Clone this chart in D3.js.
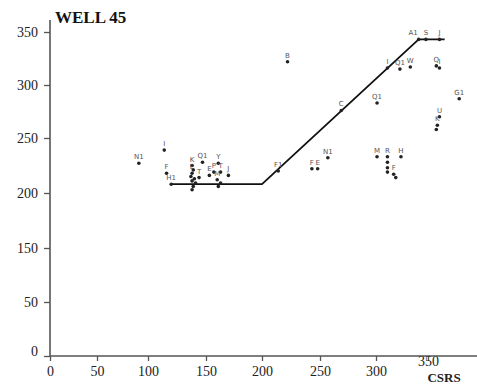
<!DOCTYPE html>
<html>
<head>
<meta charset="utf-8">
<script src="https://cdn.jsdelivr.net/npm/d3@7"></script>
<style>
  body { margin: 0; background: #fff; }
</style>
</head>
<body>
<div id="container"></div>
<script>
const width = 477;
const height = 391;

// y tick values as printed on the original axis (no 100)
const yTicks = [0, 50, 150, 200, 250, 300, 350];
const xTicks = [0, 50, 100, 150, 200, 250, 300, 350];

// broken-line fit (CSRS, value)
const fitX = [120, 200, 341, 366];
const fitY = [208, 208, 343, 343];

// labelled samples: [label, CSRS, value]
const samples = [
    ["N1", 91, 227], ["I", 114, 239], ["F", 116, 218], ["H1", 120, 208],
    ["Q1", 147, 228], ["Y", 161, 227],
    ["K", 138, 225], ["", 139, 221], ["E", 138, 218], ["", 137, 215],
    ["", 140, 213], ["", 138, 211], ["", 141, 209], ["", 139, 206],
    ["", 138, 203], ["T", 144, 214], ["E", 153, 216], ["P", 157, 219],
    ["M", 160, 212], ["T", 163, 219], ["J", 170, 216], ["", 163, 209], ["", 161, 206],
    ["F1", 214, 220], ["B", 222, 322], ["F", 243, 222], ["E", 248, 222],
    ["N1", 257, 232], ["C", 269, 276], ["Q1", 301, 283],
    ["M", 301, 233], ["R", 311, 233], ["", 311, 228], ["", 311, 223], ["", 311, 219],
    ["F", 317, 217], ["", 319, 214], ["H", 324, 233],
    ["I", 311, 316], ["Q1", 323, 315], ["W", 333, 317],
    ["A1", 341, 343], ["S", 348, 343], ["J", 361, 343],
    ["Q", 358, 318], ["I", 361, 316], ["G1", 380, 287],
    ["U", 361, 270], ["K", 359, 262], ["", 358, 258]
];

const svg = d3.create("svg")
    .attr("width", width)
    .attr("height", height)
    .style("font-family", "'Liberation Serif', 'DejaVu Serif', serif");

// scanned original axes are slightly uneven, so piecewise scales
const x = d3.scaleLinear()
    .domain([0, 50, 100, 150, 200, 250, 300, 350, 400])
    .range([50, 97, 148, 206, 262, 320, 376, 428, 480]);

const y = d3.scaleLinear()
    .domain([0, 50, 150, 200, 250, 300, 350, 400])
    .range([356, 302, 248, 193, 138, 85, 32, -21]);

svg.append("rect").attr("width", width).attr("height", height).attr("fill", "#fff");

const yAxis = svg.append("g")
    .attr("transform", `translate(${x(0)},0)`)
    .call(d3.axisLeft(y).tickValues(yTicks).tickSize(6).tickPadding(6).tickFormat(d3.format("d")));
yAxis.select(".domain").remove();
yAxis.selectAll("line").attr("stroke", "#555").attr("stroke-width", 1.3);
yAxis.selectAll("text").attr("font-size", 14).attr("fill", "#222")
    .attr("font-family", "'Liberation Serif', serif")
    .attr("dy", d => d === 0 ? "-0.05em" : "0.32em");

const xAxis = svg.append("g")
    .attr("transform", `translate(0,${y(0)})`)
    .call(d3.axisBottom(x).tickValues(xTicks).tickSize(5).tickPadding(4).tickFormat(d3.format("d")));
xAxis.select(".domain").remove();
xAxis.selectAll("line").attr("stroke", "#555").attr("stroke-width", 1.3);
xAxis.selectAll("text").attr("font-size", 14).attr("fill", "#222")
    .attr("font-family", "'Liberation Serif', serif")
    .attr("dy", d => d === 350 ? "0.1em" : "0.75em");

// axis lines
svg.append("line")
    .attr("x1", x(0)).attr("x2", x(0))
    .attr("y1", 20).attr("y2", y(0))
    .attr("stroke", "#555").attr("stroke-width", 1.6);
svg.append("line")
    .attr("x1", x(0)).attr("x2", width)
    .attr("y1", y(0)).attr("y2", y(0))
    .attr("stroke", "#555").attr("stroke-width", 1.6);

svg.append("text")
    .attr("x", 55).attr("y", 23)
    .attr("font-size", 17).attr("font-weight", "bold").attr("fill", "#111")
    .text("WELL  45");

svg.append("text")
    .attr("x", 444).attr("y", 382)
    .attr("text-anchor", "middle")
    .attr("font-size", 13).attr("font-weight", "bold").attr("fill", "#222")
    .text("CSRS");

const fitLine = d3.line()
    .x(i => x(fitX[i]))
    .y(i => y(fitY[i]));

svg.append("path")
    .datum(d3.range(fitX.length))
    .attr("d", fitLine)
    .attr("fill", "none")
    .attr("stroke", "#111")
    .attr("stroke-width", 1.8);

svg.selectAll("circle.sample")
    .data(samples)
    .enter()
    .append("circle")
    .attr("class", "sample")
    .attr("cx", d => x(d[1]))
    .attr("cy", d => y(d[2]))
    .attr("r", 1.8)
    .attr("fill", "#222");

// the label at the line's corner sits to its left, as in the original
const atCorner = d => d[1] === fitX[2] && d[2] === fitY[2];

svg.selectAll("text.sample-label")
    .data(samples.filter(d => d[0] !== ""))
    .enter()
    .append("text")
    .attr("class", "sample-label")
    .attr("x", d => x(d[1]) + (atCorner(d) ? -1 : 0))
    .attr("y", d => y(d[2]) - 4)
    .attr("text-anchor", d => atCorner(d) ? "end" : "middle")
    .attr("font-family", "'DejaVu Sans', sans-serif")
    .attr("font-size", 7)
    .attr("fill", "#555")
    .text(d => d[0]);

d3.select("#container").append(() => svg.node());
</script>
</body>
</html>
